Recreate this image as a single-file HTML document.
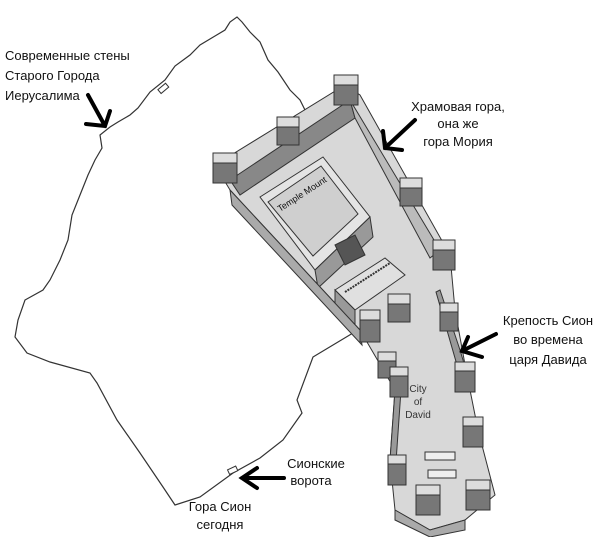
<!DOCTYPE html>
<html><head><meta charset="utf-8"><style>
html,body{margin:0;padding:0;background:#fff;}
svg{display:block;}
text{font-family:"Liberation Sans",sans-serif;font-size:13px;fill:#111;}
</style></head><body>
<svg width="601" height="537" viewBox="0 0 601 537">
<polyline fill="none" stroke="#333" stroke-width="1.2"
points="360,183 345,160 330,140 310,120 300,100 290,90 278,72 268,60 260,42 250,32 242,22 237,17 230,22 225,30 215,36 200,45 190,55 175,66 165,80 150,92 138,108 130,115 118,122 110,127 100,135 102,148 95,160 88,175 80,195 72,215 68,240 60,260 50,280 43,290 25,300 18,320 15,337 27,353 50,362 90,373 97,383 117,420 140,453 163,487 175,505 200,497 233,473 260,458 283,440 302,413 297,400 313,357 363,327"/>
<rect x="158" y="86" width="10" height="5" fill="#fff" stroke="#333" transform="rotate(-40 163 88)"/>
<rect x="228" y="468" width="9" height="5" fill="#fff" stroke="#333" transform="rotate(-25 232 470)"/>
<polygon fill="#d8d8d8" stroke="#333" stroke-width="1"
points="215,165 345,85 360,95 450,255 455,310 466,370 478,430 495,495 465,520 430,530 395,510 390,460 395,390 360,330 230,190"/>
<polygon fill="#888" stroke="#333" points="230,180 350,100 355,118 240,195"/>
<polygon fill="#bbb" stroke="#333" points="350,100 440,250 430,258 355,118"/>
<polygon fill="#e4e4e4" stroke="#333" points="260,197 323,157 370,217 315,270"/>
<polygon fill="#cfcfcf" stroke="#333" points="268,202 321,166 358,214 313,256"/>
<polygon fill="#999" stroke="#333" points="315,270 370,217 373,237 318,288"/>
<text x="0" y="0" transform="translate(280,212) rotate(-33)" style="font-size:9px">Temple Mount</text>
<polygon fill="#555" stroke="#333" points="335,245 355,235 365,255 345,265"/>
<polygon fill="#e0e0e0" stroke="#333" points="335,290 385,258 405,275 355,310"/>
<polygon fill="#999" stroke="#333" points="335,290 355,310 355,325 335,305"/>
<line x1="345" y1="292" x2="390" y2="263" stroke="#333" stroke-dasharray="2,1" stroke-width="2"/>
<polygon fill="#aaa" stroke="#333" points="230,190 360,330 362,345 232,205"/>
<polygon fill="#999" stroke="#333" points="395,390 390,460 396,462 401,390"/>
<polygon fill="#999" stroke="#333" points="440,290 460,350 466,370 459,372 436,292"/>
<polygon fill="#aaa" stroke="#333" points="395,510 430,530 465,520 465,530 430,537 395,520"/>
<g stroke="#333" stroke-width="1">
<g fill="#777"><rect x="334" y="75" width="24" height="30"/><rect x="277" y="117" width="22" height="28"/><rect x="213" y="153" width="24" height="30"/><rect x="400" y="178" width="22" height="28"/><rect x="433" y="240" width="22" height="30"/><rect x="388" y="294" width="22" height="28"/><rect x="360" y="310" width="20" height="32"/><rect x="440" y="303" width="18" height="28"/><rect x="378" y="352" width="18" height="26"/><rect x="390" y="367" width="18" height="30"/><rect x="455" y="362" width="20" height="30"/><rect x="463" y="417" width="20" height="30"/><rect x="388" y="455" width="18" height="30"/><rect x="416" y="485" width="24" height="30"/><rect x="466" y="480" width="24" height="30"/></g>
<g fill="#ddd"><rect x="334" y="75" width="24" height="10"/><rect x="277" y="117" width="22" height="10"/><rect x="213" y="153" width="24" height="10"/><rect x="400" y="178" width="22" height="10"/><rect x="433" y="240" width="22" height="10"/><rect x="388" y="294" width="22" height="10"/><rect x="360" y="310" width="20" height="10"/><rect x="440" y="303" width="18" height="9"/><rect x="378" y="352" width="18" height="9"/><rect x="390" y="367" width="18" height="9"/><rect x="455" y="362" width="20" height="9"/><rect x="463" y="417" width="20" height="9"/><rect x="388" y="455" width="18" height="9"/><rect x="416" y="485" width="24" height="10"/><rect x="466" y="480" width="24" height="10"/></g>
</g>
<g fill="#eee" stroke="#333"><rect x="425" y="452" width="30" height="8"/><rect x="428" y="470" width="28" height="8"/></g>
<text x="418" y="392" text-anchor="middle" style="font-size:10px;fill:#333">City</text>
<text x="418" y="405" text-anchor="middle" style="font-size:10px;fill:#333">of</text>
<text x="418" y="418" text-anchor="middle" style="font-size:10px;fill:#333">David</text>
<g stroke="#000" stroke-width="4" fill="none" stroke-linecap="round">
<path d="M88,95 L105,126 M86,124 L105,126 L110,111"/>
<path d="M415,120 L385,148 M383,131 L385,148 L402,150"/>
<path d="M496,334 L462,351 M468,337 L462,351 L482,357"/>
<path d="M284,478 L242,478 M257,468 L242,478 L257,488"/>
</g>
<text x="5" y="60">Современные стены</text>
<text x="5" y="80">Старого Города</text>
<text x="5" y="100">Иерусалима</text>
<text x="458" y="111" text-anchor="middle">Храмовая гора,</text>
<text x="458" y="128" text-anchor="middle">она же</text>
<text x="458" y="146" text-anchor="middle">гора Мория</text>
<text x="548" y="325" text-anchor="middle">Крепость Сион</text>
<text x="548" y="344" text-anchor="middle">во времена</text>
<text x="548" y="364" text-anchor="middle">царя Давида</text>
<text x="316" y="468" text-anchor="middle">Сионские</text>
<text x="311" y="485" text-anchor="middle">ворота</text>
<text x="220" y="511" text-anchor="middle">Гора Сион</text>
<text x="220" y="529" text-anchor="middle">сегодня</text>
</svg>
</body></html>
